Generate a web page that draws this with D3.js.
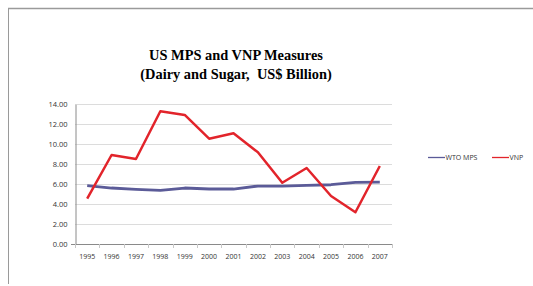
<!DOCTYPE html>
<html><head><meta charset="utf-8">
<script src="https://cdn.jsdelivr.net/npm/d3@7"></script>
<style>
html,body{margin:0;padding:0;background:#fff;}
svg{display:block;}
</style></head>
<body><svg id="c" width="533" height="286"></svg>
<script>
const years = ["1995","1996","1997","1998","1999","2000","2001","2002","2003","2004","2005","2006","2007"];
const wtoMps = [5.84,5.61,5.48,5.38,5.61,5.51,5.51,5.81,5.81,5.88,5.94,6.18,6.21];
const vnp = [4.54,8.92,8.52,13.30,12.93,10.55,11.09,9.19,6.14,7.62,4.81,3.18,7.82];
const yTicks = [0,2,4,6,8,10,12,14];
const seriesNames = ["WTO MPS","VNP"];
const colors = ["#5b5b98","#e2242b"];

const svg = d3.select("#c");
// frame
svg.append("line").attr("x1",8).attr("x2",533).attr("y1",8.5).attr("y2",8.5).attr("stroke","#9a9a9a").attr("stroke-width",1.5);
svg.append("line").attr("x1",8.5).attr("x2",8.5).attr("y1",8).attr("y2",284).attr("stroke","#9a9a9a").attr("stroke-width",1);

// title
const tg = svg.append("g").attr("font-family","'Liberation Serif','Times New Roman',serif").attr("font-weight","bold").attr("font-size","14.4px").attr("text-anchor","middle").attr("fill","#000");
tg.append("text").attr("x",236).attr("y",60).text("US MPS and VNP Measures");
tg.append("text").attr("x",236).attr("y",79).attr("xml:space","preserve").text("(Dairy and Sugar,  US$ Billion)");

const x = d3.scaleBand().domain(years).range([75,392]);
const y = d3.scaleLinear().domain([0,14]).range([244,104.3]);

// gridlines
svg.append("g").selectAll("line").data(yTicks.filter(d=>d>0)).join("line")
  .attr("x1",75).attr("x2",392).attr("y1",d=>Math.round(y(d))+0.5).attr("y2",d=>Math.round(y(d))+0.5)
  .attr("stroke","#dcdcdc").attr("stroke-width",1);

// y axis
const ya = svg.append("g").attr("transform","translate(75.5,0)")
  .call(d3.axisLeft(y).tickValues(yTicks).tickFormat(d3.format(".2f")).tickSize(0).tickPadding(8));
ya.select(".domain").attr("stroke","#8a8a8a");
ya.selectAll("text").attr("font-family","'Open Sans','Liberation Sans',sans-serif").attr("font-size","7.5px").attr("fill","#333");

// x axis
const xa = svg.append("g").attr("transform","translate(0,244.5)")
  .call(d3.axisBottom(x).tickSize(0).tickPadding(10));
xa.select(".domain").attr("stroke","#8a8a8a").attr("d","M71,0H392");
xa.selectAll("text").attr("font-family","'Open Sans','Liberation Sans',sans-serif").attr("font-size","7px").attr("fill","#333");
// boundary tick marks
const bounds = years.map(d=>x(d)).concat([x.range()[1]]);
svg.append("g").selectAll("line").data(bounds).join("line")
  .attr("x1",d=>Math.round(d)+0.5).attr("x2",d=>Math.round(d)+0.5).attr("y1",244).attr("y2",248)
  .attr("stroke","#c8c8c8");

// lines
const line = d3.line().x((d,i)=>x(years[i])+x.bandwidth()/2).y(d=>y(d));
[wtoMps,vnp].forEach((s,i)=>{
  svg.append("path").datum(s).attr("d",line).attr("fill","none")
    .attr("stroke",colors[i]).attr("stroke-width",i===0?2.8:2.5).attr("stroke-linejoin","round");
});

// legend
const lg = svg.append("g").attr("font-family","'Open Sans','Liberation Sans',sans-serif").attr("font-size","7px").attr("fill","#333");
const lx = [428,492];
seriesNames.forEach((n,i)=>{
  lg.append("line").attr("x1",lx[i]).attr("x2",lx[i]+17).attr("y1",157.5).attr("y2",157.5).attr("stroke",colors[i]).attr("stroke-width",1.3);
  lg.append("text").attr("x",lx[i]+17.5).attr("y",160).text(n);
});
</script></body></html>
